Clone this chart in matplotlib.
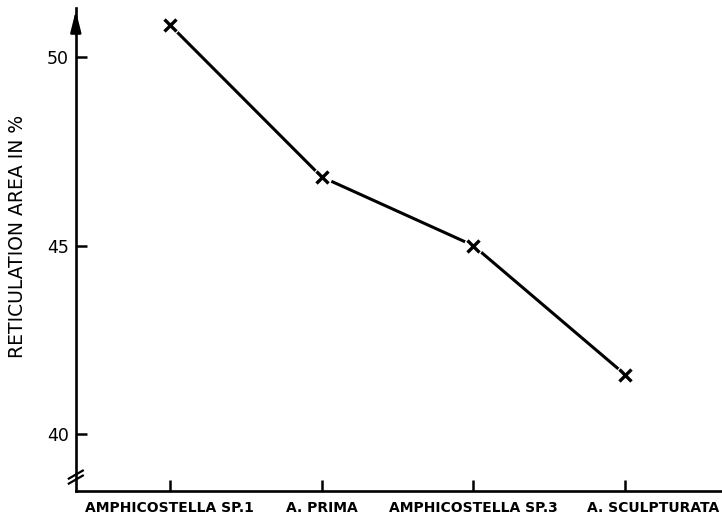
import numpy as np
import matplotlib.pyplot as plt
from matplotlib.transforms import ScaledTranslation

# Datos
especies = ['AMPHICOSTELLA SP.1', 'A. PRIMA', 'AMPHICOSTELLA SP.3', 'A. SCULPTURATA']
area_reticulacion = [50.85, 46.82, 45.0, 41.58]
y_ticks = [40, 45, 50]

fig = plt.figure(figsize=(7.22, 5.23), dpi=100)
ax = fig.add_axes([0.105, 0.061, 0.893, 0.924])

x = np.arange(len(especies))
ax.plot(x, area_reticulacion, color='k', lw=2.2, zorder=2)
# huecos blancos alrededor de las cruces
ax.plot(x, area_reticulacion, 'o', color='white', markersize=13, zorder=3)
ax.plot(x, area_reticulacion, 'x', color='k', markersize=8, mew=2.4, zorder=4)

ax.set_xlim(-0.62, 3.63)
ax.set_ylim(38.49, 51.3)
ax.set_xticks(x)
ax.set_xticklabels(especies, fontsize=10, fontweight='bold')
ax.set_yticks(y_ticks)
ax.set_yticklabels([str(v) for v in y_ticks], fontsize=12.5)
ax.tick_params(axis='both', direction='in', length=8, width=1.8, color='k')
ax.tick_params(axis='x', pad=7)
ax.tick_params(axis='y', pad=5)

# la ultima etiqueta esta desplazada a la derecha en el original
ult = ax.get_xticklabels()[-1]
ult.set_transform(ult.get_transform() + ScaledTranslation(28 / 100, 0, fig.dpi_scale_trans))

ax.set_ylabel('RETICULATION AREA IN %', fontsize=13.5)
ax.yaxis.set_label_coords(-0.075, 0.528)

for s in ['top', 'right']:
    ax.spines[s].set_visible(False)
for s in ['left', 'bottom']:
    ax.spines[s].set_linewidth(1.9)

# flecha del eje y
ax.annotate('', xy=(0, 1.0), xytext=(0, 0.94), xycoords='axes fraction',
            arrowprops=dict(arrowstyle='-|>,head_length=0.8,head_width=0.2',
                            color='k', lw=1.8, mutation_scale=16))

# marca de corte del eje y
W, H = 646.0, 483.0
for dy in (-2.5, 2.5):
    y0 = (14 + dy - 4) / H
    y1 = (14 + dy + 4) / H
    ax.plot([-7 / W, 7 / W], [y0, y1], color='k', lw=1.6,
            transform=ax.transAxes, clip_on=False)

fig.savefig('out.png', dpi=100)
